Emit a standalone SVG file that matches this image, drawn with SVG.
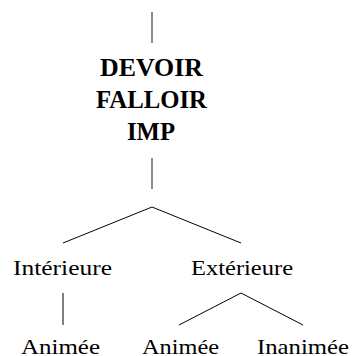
<svg xmlns="http://www.w3.org/2000/svg" width="352" height="356" viewBox="0 0 352 356">
<style>
text{font-family:"Liberation Serif","Times New Roman",serif;fill:#000;}
.b{font-weight:bold;font-size:25px;}
.r{font-size:22px;}
.stem{stroke:#666;stroke-width:1.5;fill:none;}
.br{stroke:#000;stroke-width:1;fill:none;}
</style>
<rect width="352" height="356" fill="#fff"/>
<g id="connectors">
<line class="stem" x1="152" y1="12" x2="152" y2="43"/>
<line class="stem" x1="152" y1="158" x2="152" y2="189"/>
<polyline class="br" points="63,243 152,207 241,243"/>
<line class="br" x1="63" y1="293" x2="63" y2="325"/>
<polyline class="br" points="179,325 241,293 303,325"/>
</g>
<g id="root">
<text class="b" x="100" y="75.5" textLength="103" lengthAdjust="spacingAndGlyphs">DEVOIR</text>
<text class="b" x="96" y="107.5" textLength="111" lengthAdjust="spacingAndGlyphs">FALLOIR</text>
<text class="b" x="127" y="139.5" textLength="48" lengthAdjust="spacingAndGlyphs">IMP</text>
</g>
<g id="interieure">
<text class="r" x="13" y="275" textLength="99" lengthAdjust="spacingAndGlyphs">Intérieure</text>
</g>
<g id="exterieure">
<text class="r" x="191" y="275" textLength="102" lengthAdjust="spacingAndGlyphs">Extérieure</text>
</g>
<g id="animee1">
<text class="r" x="21" y="354" textLength="79" lengthAdjust="spacingAndGlyphs">Animée</text>
</g>
<g id="animee2">
<text class="r" x="142" y="354" textLength="77" lengthAdjust="spacingAndGlyphs">Animée</text>
</g>
<g id="inanimee">
<text class="r" x="257" y="354" textLength="92" lengthAdjust="spacingAndGlyphs">Inanimée</text>
</g>
</svg>
